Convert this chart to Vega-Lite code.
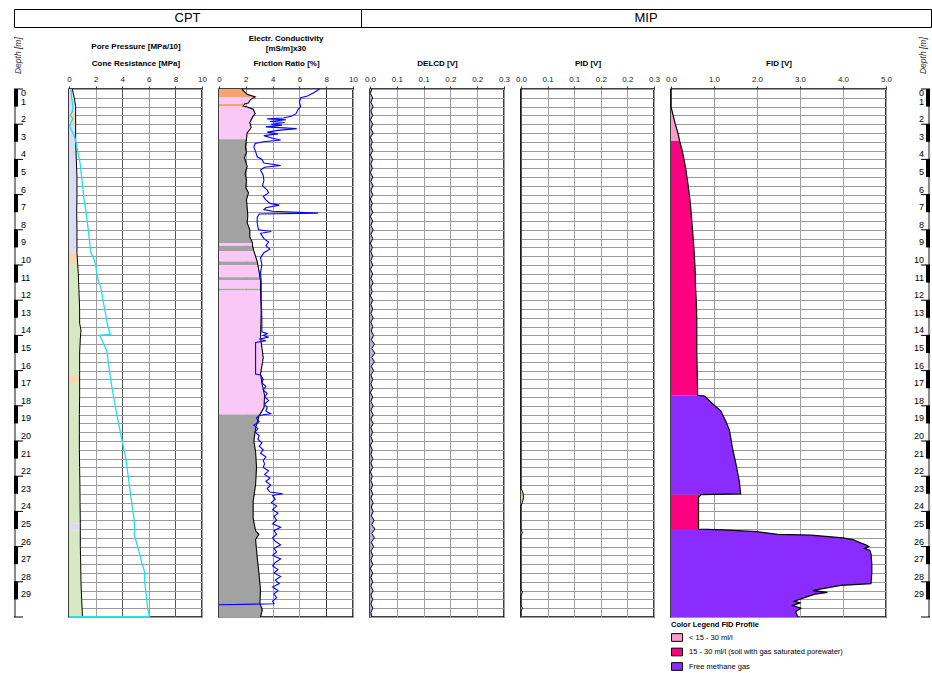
{
"$schema": "https://vega.github.io/schema/vega-lite/v6.json",
"padding": {"left": 13, "top": 8, "right": 0, "bottom": 0},
"background": "white",
"spacing": 6,
"datasets": {
"blk": [{"a":0,"b":1},{"a":2,"b":3},{"a":4,"b":5},{"a":6,"b":7},{"a":8,"b":9},{"a":10,"b":11},{"a":12,"b":13},{"a":14,"b":15},{"a":16,"b":17},{"a":18,"b":19},{"a":20,"b":21},{"a":22,"b":23},{"a":24,"b":25},{"a":26,"b":27},{"a":28,"b":29}],
"bar": [{"a":0,"b":30}],
"tk": [{"d":0},{"d":2},{"d":4},{"d":6},{"d":8},{"d":10},{"d":12},{"d":14},{"d":16},{"d":18},{"d":20},{"d":22},{"d":24},{"d":26},{"d":28},{"d":30}],
"lab": [{"d":0},{"d":1},{"d":2},{"d":3},{"d":4},{"d":5},{"d":6},{"d":7},{"d":8},{"d":9},{"d":10},{"d":11},{"d":12},{"d":13},{"d":14},{"d":15},{"d":16},{"d":17},{"d":18},{"d":19},{"d":20},{"d":21},{"d":22},{"d":23},{"d":24},{"d":25},{"d":26},{"d":27},{"d":28},{"d":29}],
"dt": [{"t":"Depth [m]","d":-0.85}],
"p1": [
{"s":1,"c":"L","d":0,"v":0.25},{"s":1,"c":"L","d":0.5,"v":0.4},{"s":1,"c":"L","d":1.0,"v":0.5},{"s":1,"c":"L","d":1.3,"v":0.5},
{"s":2,"c":"P","d":1.3,"v":0.5},{"s":2,"c":"P","d":2.0,"v":0.5},
{"s":3,"c":"L","d":2.0,"v":0.5},{"s":3,"c":"L","d":3,"v":0.5},{"s":3,"c":"L","d":4,"v":0.55},{"s":3,"c":"L","d":5,"v":0.6},{"s":3,"c":"L","d":6,"v":0.6},{"s":3,"c":"L","d":7,"v":0.58},{"s":3,"c":"L","d":8,"v":0.6},{"s":3,"c":"L","d":9,"v":0.6},{"s":3,"c":"L","d":9.3,"v":0.6},
{"s":4,"c":"P","d":9.3,"v":0.6},{"s":4,"c":"P","d":9.95,"v":0.65},
{"s":5,"c":"G","d":9.95,"v":0.65},{"s":5,"c":"G","d":10.5,"v":0.7},{"s":5,"c":"G","d":11.5,"v":0.75},{"s":5,"c":"G","d":12.5,"v":0.8},{"s":5,"c":"G","d":13.3,"v":0.8},{"s":5,"c":"G","d":13.7,"v":0.9},{"s":5,"c":"G","d":14.2,"v":0.85},{"s":5,"c":"G","d":15,"v":0.8},{"s":5,"c":"G","d":16,"v":0.8},{"s":5,"c":"G","d":16.3,"v":0.8},
{"s":6,"c":"P","d":16.3,"v":0.8},{"s":6,"c":"P","d":16.7,"v":0.8},
{"s":7,"c":"G","d":16.7,"v":0.8},{"s":7,"c":"G","d":17.5,"v":0.8},{"s":7,"c":"G","d":18.5,"v":0.78},{"s":7,"c":"G","d":19.5,"v":0.78},{"s":7,"c":"G","d":20.5,"v":0.78},{"s":7,"c":"G","d":21.5,"v":0.8},{"s":7,"c":"G","d":22.5,"v":0.82},{"s":7,"c":"G","d":23.5,"v":0.83},{"s":7,"c":"G","d":24.7,"v":0.85},
{"s":8,"c":"L","d":24.7,"v":0.85},{"s":8,"c":"L","d":25.1,"v":0.85},
{"s":9,"c":"G","d":25.1,"v":0.85},{"s":9,"c":"G","d":26,"v":0.85},{"s":9,"c":"G","d":27,"v":0.88},{"s":9,"c":"G","d":28,"v":0.9},{"s":9,"c":"G","d":29,"v":0.95},{"s":9,"c":"G","d":29.7,"v":1.0},{"s":9,"c":"G","d":30,"v":1.0}],
"qc": [{"d":0,"v":0.15},{"d":0.5,"v":0.2},{"d":1.0,"v":0.3},{"d":1.3,"v":0.25},{"d":1.5,"v":0.1},{"d":1.7,"v":0.3},{"d":1.9,"v":0.15},{"d":2.1,"v":0.05},{"d":2.3,"v":0.15},{"d":2.6,"v":0.35},{"d":2.8,"v":0.45},{"d":3.3,"v":0.6},{"d":4.2,"v":0.83},{"d":5.2,"v":0.98},{"d":6.1,"v":1.1},{"d":7.0,"v":1.28},{"d":8.0,"v":1.45},{"d":8.9,"v":1.58},{"d":9.3,"v":1.65},{"d":9.7,"v":1.9},{"d":10.0,"v":2.0},{"d":10.4,"v":2.08},{"d":10.8,"v":2.16},{"d":11.3,"v":2.4},{"d":11.9,"v":2.53},{"d":12.6,"v":2.7},{"d":13.4,"v":2.9},{"d":13.95,"v":3.1},{"d":14.0,"v":2.3},{"d":14.3,"v":2.5},{"d":14.9,"v":2.85},{"d":15.5,"v":2.95},{"d":16.6,"v":3.15},{"d":17.7,"v":3.4},{"d":18.9,"v":3.7},{"d":20.0,"v":4.0},{"d":21.1,"v":4.3},{"d":22.3,"v":4.5},{"d":23.4,"v":4.7},{"d":24.5,"v":4.9},{"d":25.1,"v":4.95},{"d":25.3,"v":4.9},{"d":26.4,"v":5.3},{"d":26.9,"v":5.47},{"d":27.4,"v":5.67},{"d":28.1,"v":5.7},{"d":28.9,"v":5.84},{"d":29.5,"v":5.9},{"d":29.95,"v":6.05},{"d":30,"v":6.05}],
"p2": [
{"s":1,"c":"O","d":0,"v":1.7},{"s":1,"c":"O","d":0.3,"v":2.1},{"s":1,"c":"O","d":0.45,"v":2.7},
{"s":2,"c":"K","d":0.45,"v":2.7},{"s":2,"c":"K","d":0.6,"v":2.35},{"s":2,"c":"K","d":0.8,"v":2.2},{"s":2,"c":"K","d":0.85,"v":1.9},
{"s":3,"c":"O","d":0.85,"v":1.9},{"s":3,"c":"O","d":0.97,"v":1.8},{"s":3,"c":"O","d":1.0,"v":2.0},
{"s":4,"c":"K","d":1.0,"v":2.0},{"s":4,"c":"K","d":1.15,"v":2.55},{"s":4,"c":"K","d":1.4,"v":2.7},{"s":4,"c":"K","d":1.6,"v":2.5},{"s":4,"c":"K","d":1.9,"v":2.3},{"s":4,"c":"K","d":2.2,"v":2.4},{"s":4,"c":"K","d":2.5,"v":2.1},{"s":4,"c":"K","d":2.85,"v":2.05},
{"s":5,"c":"S","d":2.85,"v":2.05},{"s":5,"c":"S","d":3.3,"v":1.97},{"s":5,"c":"S","d":3.6,"v":2.05},{"s":5,"c":"S","d":3.9,"v":1.9},{"s":5,"c":"S","d":4.4,"v":2.1},{"s":5,"c":"S","d":4.8,"v":1.95},{"s":5,"c":"S","d":5.2,"v":2.05},{"s":5,"c":"S","d":5.6,"v":2.0},{"s":5,"c":"S","d":5.9,"v":2.2},{"s":5,"c":"S","d":6.3,"v":2.05},{"s":5,"c":"S","d":6.7,"v":2.1},{"s":5,"c":"S","d":7.2,"v":2.15},{"s":5,"c":"S","d":7.6,"v":2.1},{"s":5,"c":"S","d":8.0,"v":2.3},{"s":5,"c":"S","d":8.4,"v":2.3},{"s":5,"c":"S","d":8.75,"v":2.5},
{"s":6,"c":"K","d":8.75,"v":2.5},{"s":6,"c":"K","d":8.9,"v":2.5},
{"s":7,"c":"S","d":8.9,"v":2.5},{"s":7,"c":"S","d":9.2,"v":2.6},
{"s":8,"c":"K","d":9.2,"v":2.6},{"s":8,"c":"K","d":9.8,"v":2.85},
{"s":9,"c":"S","d":9.8,"v":2.85},{"s":9,"c":"S","d":10.0,"v":2.9},
{"s":10,"c":"K","d":10.0,"v":2.9},{"s":10,"c":"K","d":10.4,"v":3.0},{"s":10,"c":"K","d":10.7,"v":3.05},
{"s":11,"c":"S","d":10.7,"v":3.05},{"s":11,"c":"S","d":10.85,"v":3.1},
{"s":12,"c":"K","d":10.85,"v":3.1},{"s":12,"c":"K","d":11.35,"v":3.1},
{"s":13,"c":"S","d":11.35,"v":3.1},{"s":13,"c":"S","d":11.45,"v":3.1},
{"s":14,"c":"K","d":11.45,"v":3.1},{"s":14,"c":"K","d":12.6,"v":3.15},{"s":14,"c":"K","d":14.1,"v":3.1},{"s":14,"c":"K","d":15.27,"v":3.3},{"s":14,"c":"K","d":16.2,"v":3.1},{"s":14,"c":"K","d":16.8,"v":3.23},{"s":14,"c":"K","d":17.4,"v":3.4},{"s":14,"c":"K","d":18.1,"v":3.36},{"s":14,"c":"K","d":18.5,"v":3.05},
{"s":15,"c":"S","d":18.5,"v":3.05},{"s":15,"c":"S","d":18.6,"v":2.98},{"s":15,"c":"S","d":19.3,"v":2.73},{"s":15,"c":"S","d":20.0,"v":2.6},{"s":15,"c":"S","d":20.6,"v":2.73},{"s":15,"c":"S","d":21.5,"v":2.8},{"s":15,"c":"S","d":22.5,"v":2.73},{"s":15,"c":"S","d":23.4,"v":2.55},{"s":15,"c":"S","d":24.4,"v":2.55},{"s":15,"c":"S","d":25.1,"v":2.73},{"s":15,"c":"S","d":25.3,"v":2.98},{"s":15,"c":"S","d":25.6,"v":2.73},{"s":15,"c":"S","d":26.6,"v":2.85},{"s":15,"c":"S","d":27.5,"v":2.98},{"s":15,"c":"S","d":28.5,"v":3.1},{"s":15,"c":"S","d":29.2,"v":3.05},{"s":15,"c":"S","d":29.6,"v":3.23},{"s":15,"c":"S","d":30,"v":3.1}],
"ec": [{"d":0,"v":7.5},{"d":0.2,"v":7.1},{"d":0.4,"v":6.6},{"d":0.5,"v":6.1},{"d":0.75,"v":6.0},{"d":1.0,"v":6.1},{"d":1.15,"v":5.9},{"d":1.4,"v":5.75},{"d":1.55,"v":5.4},{"d":1.65,"v":4.8},{"d":1.7,"v":3.6},{"d":1.75,"v":5.0},{"d":1.85,"v":3.8},{"d":1.9,"v":4.9},{"d":2.0,"v":3.9},{"d":2.05,"v":4.7},{"d":2.15,"v":3.5},{"d":2.25,"v":5.8},{"d":2.35,"v":4.4},{"d":2.45,"v":3.6},{"d":2.55,"v":4.4},{"d":2.65,"v":3.35},{"d":2.8,"v":4.0},{"d":2.9,"v":4.6},{"d":3.0,"v":3.3},{"d":3.1,"v":2.7},{"d":3.3,"v":2.6},{"d":3.6,"v":2.75},{"d":3.85,"v":2.85},{"d":4.0,"v":3.2},{"d":4.2,"v":3.35},{"d":4.35,"v":4.6},{"d":4.45,"v":3.4},{"d":4.6,"v":3.1},{"d":4.9,"v":3.3},{"d":5.2,"v":3.35},{"d":5.5,"v":3.25},{"d":5.75,"v":3.6},{"d":5.9,"v":3.7},{"d":6.1,"v":3.3},{"d":6.3,"v":3.5},{"d":6.5,"v":3.8},{"d":6.6,"v":4.5},{"d":6.75,"v":3.5},{"d":6.85,"v":3.35},{"d":6.95,"v":4.0},{"d":7.05,"v":7.4},{"d":7.1,"v":3.0},{"d":7.3,"v":2.85},{"d":7.6,"v":2.85},{"d":8.0,"v":2.95},{"d":8.1,"v":3.9},{"d":8.2,"v":3.1},{"d":8.5,"v":3.35},{"d":8.7,"v":3.7},{"d":8.9,"v":3.5},{"d":9.1,"v":3.8},{"d":9.3,"v":3.35},{"d":9.6,"v":3.1},{"d":10.0,"v":3.2},{"d":10.4,"v":3.1},{"d":11.0,"v":3.15},{"d":12.0,"v":3.15},{"d":13.0,"v":3.2},{"d":13.8,"v":3.2},{"d":13.9,"v":3.6},{"d":14.0,"v":3.3},{"d":14.1,"v":3.7},{"d":14.2,"v":3.0},{"d":14.3,"v":3.5},{"d":14.4,"v":2.73},{"d":16.2,"v":2.73},{"d":16.25,"v":3.1},{"d":16.5,"v":3.3},{"d":16.7,"v":3.2},{"d":16.9,"v":3.5},{"d":17.1,"v":3.3},{"d":17.3,"v":3.6},{"d":17.5,"v":3.4},{"d":17.7,"v":3.7},{"d":17.9,"v":3.4},{"d":18.1,"v":3.6},{"d":18.3,"v":3.5},{"d":18.45,"v":3.86},{"d":18.55,"v":3.0},{"d":18.7,"v":2.8},{"d":18.9,"v":3.0},{"d":19.1,"v":2.6},{"d":19.3,"v":2.9},{"d":19.5,"v":2.7},{"d":19.7,"v":3.0},{"d":19.9,"v":2.9},{"d":20.1,"v":3.2},{"d":20.3,"v":3.0},{"d":20.5,"v":3.3},{"d":20.7,"v":3.1},{"d":20.9,"v":3.5},{"d":21.1,"v":3.3},{"d":21.3,"v":3.4},{"d":21.5,"v":3.3},{"d":21.7,"v":3.7},{"d":21.9,"v":3.4},{"d":22.1,"v":3.8},{"d":22.3,"v":3.5},{"d":22.5,"v":3.86},{"d":22.7,"v":3.6},{"d":22.9,"v":3.8},{"d":23.0,"v":4.75},{"d":23.1,"v":4.0},{"d":23.3,"v":4.2},{"d":23.5,"v":3.9},{"d":23.7,"v":4.3},{"d":23.9,"v":4.0},{"d":24.1,"v":4.4},{"d":24.3,"v":4.1},{"d":24.5,"v":4.3},{"d":24.7,"v":4.0},{"d":24.9,"v":4.6},{"d":25.1,"v":4.1},{"d":25.3,"v":4.3},{"d":25.5,"v":4.0},{"d":25.7,"v":4.2},{"d":25.9,"v":4.6},{"d":26.1,"v":4.1},{"d":26.3,"v":4.3},{"d":26.5,"v":4.0},{"d":26.7,"v":4.6},{"d":26.9,"v":4.2},{"d":27.1,"v":4.0},{"d":27.3,"v":4.4},{"d":27.5,"v":4.1},{"d":27.7,"v":4.6},{"d":27.9,"v":4.2},{"d":28.1,"v":4.5},{"d":28.3,"v":4.0},{"d":28.5,"v":4.4},{"d":28.7,"v":4.1},{"d":28.9,"v":4.3},{"d":29.1,"v":4.0},{"d":29.25,"v":4.1},{"d":29.3,"v":0}],
"dl": [{"d":0,"v":0.004},{"d":0.25,"v":0.001},{"d":0.5,"v":0.006},{"d":0.75,"v":0.002},{"d":1,"v":0.007},{"d":1.25,"v":0.002},{"d":1.5,"v":0.006},{"d":1.75,"v":0.001},{"d":2,"v":0.006},{"d":2.25,"v":0.002},{"d":2.5,"v":0.007},{"d":2.75,"v":0.001},{"d":3,"v":0.005},{"d":3.25,"v":0.002},{"d":3.5,"v":0.006},{"d":3.75,"v":0.001},{"d":4,"v":0.006},{"d":4.25,"v":0.002},{"d":4.5,"v":0.005},{"d":4.75,"v":0.001},{"d":5,"v":0.006},{"d":5.25,"v":0.002},{"d":5.5,"v":0.007},{"d":5.75,"v":0.002},{"d":6,"v":0.006},{"d":6.25,"v":0.001},{"d":6.5,"v":0.005},{"d":6.75,"v":0.002},{"d":7,"v":0.006},{"d":7.25,"v":0.001},{"d":7.5,"v":0.006},{"d":7.75,"v":0.002},{"d":8,"v":0.007},{"d":8.25,"v":0.002},{"d":8.5,"v":0.006},{"d":8.75,"v":0.001},{"d":9,"v":0.005},{"d":9.25,"v":0.002},{"d":9.5,"v":0.006},{"d":9.75,"v":0.002},{"d":10,"v":0.006},{"d":10.25,"v":0.001},{"d":10.5,"v":0.006},{"d":10.75,"v":0.002},{"d":11,"v":0.007},{"d":11.25,"v":0.002},{"d":11.5,"v":0.005},{"d":11.75,"v":0.001},{"d":12,"v":0.006},{"d":12.25,"v":0.002},{"d":12.5,"v":0.006},{"d":12.75,"v":0.002},{"d":13,"v":0.007},{"d":13.25,"v":0.002},{"d":13.5,"v":0.006},{"d":13.75,"v":0.003},{"d":14,"v":0.008},{"d":14.25,"v":0.003},{"d":14.5,"v":0.01},{"d":14.75,"v":0.004},{"d":15,"v":0.011},{"d":15.25,"v":0.004},{"d":15.5,"v":0.01},{"d":15.75,"v":0.003},{"d":16,"v":0.008},{"d":16.25,"v":0.002},{"d":16.5,"v":0.006},{"d":16.75,"v":0.002},{"d":17,"v":0.006},{"d":17.25,"v":0.001},{"d":17.5,"v":0.006},{"d":17.75,"v":0.002},{"d":18,"v":0.007},{"d":18.25,"v":0.002},{"d":18.5,"v":0.007},{"d":18.75,"v":0.002},{"d":19,"v":0.007},{"d":19.25,"v":0.002},{"d":19.5,"v":0.006},{"d":19.75,"v":0.002},{"d":20,"v":0.006},{"d":20.25,"v":0.001},{"d":20.5,"v":0.005},{"d":20.75,"v":0.002},{"d":21,"v":0.006},{"d":21.25,"v":0.002},{"d":21.5,"v":0.006},{"d":21.75,"v":0.001},{"d":22,"v":0.005},{"d":22.25,"v":0.002},{"d":22.5,"v":0.006},{"d":22.75,"v":0.002},{"d":23,"v":0.006},{"d":23.25,"v":0.002},{"d":23.5,"v":0.007},{"d":23.75,"v":0.003},{"d":24,"v":0.007},{"d":24.25,"v":0.003},{"d":24.5,"v":0.009},{"d":24.75,"v":0.004},{"d":25,"v":0.011},{"d":25.25,"v":0.004},{"d":25.5,"v":0.01},{"d":25.75,"v":0.003},{"d":26,"v":0.008},{"d":26.25,"v":0.002},{"d":26.5,"v":0.006},{"d":26.75,"v":0.002},{"d":27,"v":0.006},{"d":27.25,"v":0.001},{"d":27.5,"v":0.006},{"d":27.75,"v":0.002},{"d":28,"v":0.006},{"d":28.25,"v":0.002},{"d":28.5,"v":0.007},{"d":28.75,"v":0.002},{"d":29,"v":0.006},{"d":29.25,"v":0.002},{"d":29.5,"v":0.006},{"d":29.75,"v":0.002},{"d":30,"v":0.004}],
"pid": [{"d":0,"v":0},{"d":22.7,"v":0},{"d":22.9,"v":0.004},{"d":23.2,"v":0.006},{"d":23.5,"v":0.003},{"d":23.7,"v":0},{"d":25.0,"v":0},{"d":25.2,"v":0.003},{"d":25.4,"v":0},{"d":28.4,"v":0},{"d":28.6,"v":0.003},{"d":28.8,"v":0},{"d":29.3,"v":0},{"d":29.5,"v":0.003},{"d":29.7,"v":0},{"d":30,"v":0}],
"fid": [
{"s":1,"c":"A","d":0,"v":0},{"s":1,"c":"A","d":1.0,"v":0},{"s":1,"c":"A","d":1.5,"v":0.05},{"s":1,"c":"A","d":2.0,"v":0.1},{"s":1,"c":"A","d":2.5,"v":0.16},{"s":1,"c":"A","d":2.95,"v":0.2},
{"s":2,"c":"B","d":2.95,"v":0.2},{"s":2,"c":"B","d":3.6,"v":0.27},{"s":2,"c":"B","d":4.5,"v":0.34},{"s":2,"c":"B","d":5.5,"v":0.4},{"s":2,"c":"B","d":6.5,"v":0.45},{"s":2,"c":"B","d":7.4,"v":0.48},{"s":2,"c":"B","d":8.3,"v":0.51},{"s":2,"c":"B","d":9.3,"v":0.54},{"s":2,"c":"B","d":10.2,"v":0.56},{"s":2,"c":"B","d":11.2,"v":0.57},{"s":2,"c":"B","d":12.2,"v":0.59},{"s":2,"c":"B","d":13.1,"v":0.6},{"s":2,"c":"B","d":15.0,"v":0.6},{"s":2,"c":"B","d":16.2,"v":0.61},{"s":2,"c":"B","d":17.4,"v":0.62},
{"s":3,"c":"C","d":17.4,"v":0.62},{"s":3,"c":"C","d":17.45,"v":0.78},{"s":3,"c":"C","d":17.8,"v":0.93},{"s":3,"c":"C","d":18.3,"v":1.16},{"s":3,"c":"C","d":18.9,"v":1.28},{"s":3,"c":"C","d":19.4,"v":1.36},{"s":3,"c":"C","d":20.4,"v":1.43},{"s":3,"c":"C","d":21.3,"v":1.51},{"s":3,"c":"C","d":22.3,"v":1.59},{"s":3,"c":"C","d":22.8,"v":1.61},{"s":3,"c":"C","d":23.0,"v":1.62},{"s":3,"c":"C","d":23.05,"v":0.7},
{"s":4,"c":"B","d":23.05,"v":0.7},{"s":4,"c":"B","d":23.2,"v":0.64},{"s":4,"c":"B","d":24.9,"v":0.64},{"s":4,"c":"B","d":25.0,"v":0.64},
{"s":5,"c":"C","d":25.0,"v":0.64},{"s":5,"c":"C","d":25.05,"v":1.2},{"s":5,"c":"C","d":25.15,"v":2.0},{"s":5,"c":"C","d":25.3,"v":2.48},{"s":5,"c":"C","d":25.35,"v":3.26},{"s":5,"c":"C","d":25.5,"v":3.99},{"s":5,"c":"C","d":25.6,"v":4.23},{"s":5,"c":"C","d":25.8,"v":4.42},{"s":5,"c":"C","d":25.9,"v":4.53},{"s":5,"c":"C","d":26.0,"v":4.6},{"s":5,"c":"C","d":26.1,"v":4.5},{"s":5,"c":"C","d":26.2,"v":4.62},{"s":5,"c":"C","d":26.4,"v":4.65},{"s":5,"c":"C","d":27.0,"v":4.67},{"s":5,"c":"C","d":27.5,"v":4.67},{"s":5,"c":"C","d":28.1,"v":4.65},{"s":5,"c":"C","d":28.2,"v":3.95},{"s":5,"c":"C","d":28.4,"v":3.5},{"s":5,"c":"C","d":28.5,"v":3.3},{"s":5,"c":"C","d":28.6,"v":3.64},{"s":5,"c":"C","d":28.7,"v":3.35},{"s":5,"c":"C","d":28.9,"v":3.1},{"s":5,"c":"C","d":29.1,"v":2.87},{"s":5,"c":"C","d":29.2,"v":3.0},{"s":5,"c":"C","d":29.35,"v":2.83},{"s":5,"c":"C","d":29.5,"v":3.02},{"s":5,"c":"C","d":29.7,"v":2.9},{"s":5,"c":"C","d":30,"v":2.95}]
},
"vconcat": [
{"hconcat": [
 {"width": 347, "height": 18, "view": {"stroke": "black", "strokeWidth": 1}, "data": {"values": [{"t": "CPT"}]}, "mark": {"type": "text", "fontSize": 13, "font": "Liberation Sans", "color": "black"}, "encoding": {"text": {"field": "t", "type": "nominal"}}},
 {"width": 570, "height": 18, "view": {"stroke": "black", "strokeWidth": 1}, "data": {"values": [{"t": "MIP"}]}, "mark": {"type": "text", "fontSize": 13, "font": "Liberation Sans", "color": "black"}, "encoding": {"text": {"field": "t", "type": "nominal"}}}
], "spacing": 0, "bounds": "flush"},
{"hconcat": [
 {"width": 38, "height": 528, "view": {"stroke": null},
  "layer": [
   {"data": {"name": "bar"}, "mark": {"type": "rule", "color": "#8a8a8a", "strokeWidth": 2}, "encoding": {"x": {"datum": 1, "type": "quantitative", "scale": {"domain": [0, 38], "nice": false}, "axis": null}, "y": {"field": "a", "type": "quantitative", "scale": {"domain": [0, 30], "reverse": true, "nice": false, "zero": false}, "axis": null}, "y2": {"field": "b"}}},
   {"data": {"name": "blk"}, "mark": {"type": "rule", "color": "black", "strokeWidth": 4}, "encoding": {"x": {"datum": 2, "type": "quantitative"}, "y": {"field": "a", "type": "quantitative"}, "y2": {"field": "b"}}},
   {"data": {"name": "tk"}, "mark": {"type": "rule", "color": "black", "strokeWidth": 1}, "encoding": {"x": {"datum": 0, "type": "quantitative"}, "x2": {"datum": 9}, "y": {"field": "d", "type": "quantitative"}}},
   {"data": {"name": "lab"}, "transform": [{"filter": "datum.d > 0"}], "mark": {"type": "text", "align": "left", "baseline": "bottom", "fontSize": 9, "font": "Liberation Sans", "color": "black"}, "encoding": {"x": {"datum": 7, "type": "quantitative"}, "y": {"field": "d", "type": "quantitative"}, "text": {"field": "d", "type": "quantitative", "format": "d"}}},
   {"data": {"name": "lab"}, "transform": [{"filter": "datum.d == 0"}], "mark": {"type": "text", "align": "left", "baseline": "top", "fontSize": 9, "font": "Liberation Sans", "color": "black"}, "encoding": {"x": {"datum": 7, "type": "quantitative"}, "y": {"field": "d", "type": "quantitative"}, "text": {"field": "d", "type": "quantitative", "format": "d"}}},
   {"data": {"name": "dt"}, "mark": {"type": "text", "angle": 270, "align": "left", "baseline": "top", "fontSize": 8.5, "fontStyle": "italic", "font": "Liberation Sans", "color": "#333"}, "encoding": {"x": {"datum": 0, "type": "quantitative"}, "y": {"field": "d", "type": "quantitative"}, "text": {"field": "t", "type": "nominal"}}}
  ]},
 {"width": 133, "height": 528,
  "layer": [
   {"data": {"name": "p1"}, "mark": {"type": "area", "orient": "horizontal"}, "encoding": {
     "x": {"field": "v", "type": "quantitative", "stack": null, "scale": {"domain": [0, 10], "nice": false}, "axis": {"orient": "top", "values": [0, 2, 4, 6, 8, 10], "tickCount": 10, "labelOverlap": false, "grid": true, "gridColor": {"condition": {"test": "datum.value === 8 || datum.value === 4", "value": "#555"}, "value": "#a0a0a0"}, "title": ["Pore Pressure [MPa/10]", "Cone Resistance [MPa]"], "titleLineHeight": 17}},
     "y": {"field": "d", "type": "quantitative", "scale": {"domain": [0, 30], "reverse": true, "nice": false, "zero": false}, "axis": {"tickCount": 60, "grid": true, "labels": false, "ticks": false, "domain": false, "title": null}},
     "detail": {"field": "s", "type": "nominal"},
     "color": {"field": "c", "type": "nominal", "scale": {"domain": ["L", "P", "G"], "range": ["#dcdcf5", "#fad6b4", "#d5e9c2"]}, "legend": null}}},
   {"data": {"name": "p1"}, "mark": {"type": "line", "color": "black", "strokeWidth": 1}, "encoding": {"x": {"field": "v", "type": "quantitative"}, "y": {"field": "d", "type": "quantitative"}, "order": {"field": "d", "type": "quantitative"}}},
   {"data": {"name": "qc"}, "mark": {"type": "line", "color": "#1fe0ee", "strokeWidth": 1.3}, "encoding": {"x": {"field": "v", "type": "quantitative"}, "y": {"field": "d", "type": "quantitative"}, "order": {"field": "d", "type": "quantitative"}}},
   {"data": {"name": "qc"}, "transform": [{"filter": "datum.d == 30"}], "mark": {"type": "rule", "color": "#1fe0ee", "strokeWidth": 2}, "encoding": {"x": {"field": "v", "type": "quantitative"}, "x2": {"datum": 0}, "y": {"field": "d", "type": "quantitative"}}}
  ]},
 {"width": 134, "height": 528,
  "title": {"text": ["Electr. Conductivity", "[mS/m]x30"], "lineHeight": 10, "fontSize": 8, "fontWeight": "bold", "font": "Liberation Sans", "color": "black", "offset": 6, "anchor": "middle", "frame": "group"},
  "layer": [
   {"data": {"name": "p2"}, "mark": {"type": "area", "orient": "horizontal"}, "encoding": {
     "x": {"field": "v", "type": "quantitative", "stack": null, "scale": {"domain": [0, 10], "nice": false}, "axis": {"orient": "top", "values": [0, 2, 4, 6, 8, 10], "tickCount": 10, "labelOverlap": false, "grid": true, "gridColor": {"condition": {"test": "datum.value === 8", "value": "#333"}, "value": "#a0a0a0"}, "title": "Friction Ratio [%]"}},
     "y": {"field": "d", "type": "quantitative", "scale": {"domain": [0, 30], "reverse": true, "nice": false, "zero": false}, "axis": {"tickCount": 60, "grid": true, "labels": false, "ticks": false, "domain": false, "title": null}},
     "detail": {"field": "s", "type": "nominal"},
     "color": {"field": "c", "type": "nominal", "scale": {"domain": ["O", "K", "S"], "range": ["#f6a273", "#fac8f6", "#a2a2a2"]}, "legend": null}}},
   {"data": {"name": "p2"}, "mark": {"type": "line", "color": "black", "strokeWidth": 1.1}, "encoding": {"x": {"field": "v", "type": "quantitative"}, "y": {"field": "d", "type": "quantitative"}, "order": {"field": "d", "type": "quantitative"}}},
   {"data": {"name": "ec"}, "mark": {"type": "line", "color": "#0000ff", "strokeWidth": 1.1}, "encoding": {"x": {"field": "v", "type": "quantitative"}, "y": {"field": "d", "type": "quantitative"}, "order": {"field": "d", "type": "quantitative"}}}
  ]},
 {"width": 134, "height": 528,
  "layer": [
   {"data": {"name": "dl"}, "mark": {"type": "area", "orient": "horizontal", "color": "#b4b4dc"}, "encoding": {
     "x": {"field": "v", "type": "quantitative", "stack": null, "scale": {"domain": [0, 0.3], "nice": false}, "axis": {"orient": "top", "values": [0, 0.06, 0.12, 0.18, 0.24, 0.3], "tickCount": 10, "labelOverlap": false, "format": ".1f", "grid": true, "gridColor": "#a0a0a0", "title": "DELCD [V]"}},
     "y": {"field": "d", "type": "quantitative", "scale": {"domain": [0, 30], "reverse": true, "nice": false, "zero": false}, "axis": {"tickCount": 60, "grid": true, "labels": false, "ticks": false, "domain": false, "title": null}}}},
   {"data": {"name": "dl"}, "mark": {"type": "line", "color": "black", "strokeWidth": 1}, "encoding": {"x": {"field": "v", "type": "quantitative"}, "y": {"field": "d", "type": "quantitative"}, "order": {"field": "d", "type": "quantitative"}}}
  ]},
 {"width": 133, "height": 528,
  "layer": [
   {"data": {"name": "pid"}, "mark": {"type": "area", "orient": "horizontal", "color": "#c9d49a"}, "encoding": {
     "x": {"field": "v", "type": "quantitative", "stack": null, "scale": {"domain": [0, 0.3], "nice": false}, "axis": {"orient": "top", "values": [0, 0.06, 0.12, 0.18, 0.24, 0.3], "tickCount": 10, "labelOverlap": false, "format": ".1f", "grid": true, "gridColor": "#a0a0a0", "title": "PID [V]"}},
     "y": {"field": "d", "type": "quantitative", "scale": {"domain": [0, 30], "reverse": true, "nice": false, "zero": false}, "axis": {"tickCount": 60, "grid": true, "labels": false, "ticks": false, "domain": false, "title": null}}}},
   {"data": {"name": "pid"}, "mark": {"type": "line", "color": "black", "strokeWidth": 1}, "encoding": {"x": {"field": "v", "type": "quantitative"}, "y": {"field": "d", "type": "quantitative"}, "order": {"field": "d", "type": "quantitative"}}}
  ]},
 {"width": 215, "height": 528,
  "layer": [
   {"data": {"name": "fid"}, "mark": {"type": "area", "orient": "horizontal"}, "encoding": {
     "x": {"field": "v", "type": "quantitative", "stack": null, "scale": {"domain": [0, 5], "nice": false}, "axis": {"orient": "top", "values": [0, 1, 2, 3, 4, 5], "tickCount": 10, "labelOverlap": false, "format": ".1f", "grid": true, "gridColor": "#a0a0a0", "title": "FID [V]"}},
     "y": {"field": "d", "type": "quantitative", "scale": {"domain": [0, 30], "reverse": true, "nice": false, "zero": false}, "axis": {"tickCount": 60, "grid": true, "labels": false, "ticks": false, "domain": false, "title": null}},
     "detail": {"field": "s", "type": "nominal"},
     "color": {"field": "c", "type": "nominal", "scale": {"domain": ["A", "B", "C"], "range": ["#ff99cc", "#ff0080", "#8a2cff"]},
       "legend": {"orient": "bottom", "direction": "vertical", "title": "Color Legend FID Profile", "titleFontSize": 7.5, "titleFontWeight": "bold", "titleFont": "Liberation Sans", "titleColor": "black", "titlePadding": 3, "labelFontSize": 7.5, "labelFont": "Liberation Sans", "labelColor": "black", "labelLimit": 300, "symbolType": "M-1,-0.7H1V0.7H-1Z", "symbolSize": 121, "rowPadding": 2.5, "offset": 4, "labelOffset": 6, "padding": 0,
         "labelExpr": "datum.label == 'A' ? '< 15 - 30 ml/l' : datum.label == 'B' ? '15 - 30 ml/l (soil with gas saturated porewater)' : 'Free methane gas'",
         "encode": {"symbols": {"update": {"stroke": {"value": "black"}, "strokeWidth": {"value": 1}, "opacity": {"value": 1}}}}}}}},
   {"data": {"name": "fid"}, "mark": {"type": "line", "color": "black", "strokeWidth": 1.2}, "encoding": {"x": {"field": "v", "type": "quantitative"}, "y": {"field": "d", "type": "quantitative"}, "order": {"field": "d", "type": "quantitative"}}}
  ]},
 {"width": 30, "height": 528, "view": {"stroke": null},
  "layer": [
   {"data": {"name": "bar"}, "mark": {"type": "rule", "color": "#8a8a8a", "strokeWidth": 2}, "encoding": {"x": {"datum": 26, "type": "quantitative", "scale": {"domain": [0, 30], "nice": false}, "axis": null}, "y": {"field": "a", "type": "quantitative", "scale": {"domain": [0, 30], "reverse": true, "nice": false, "zero": false}, "axis": null}, "y2": {"field": "b"}}},
   {"data": {"name": "blk"}, "mark": {"type": "rule", "color": "black", "strokeWidth": 4}, "encoding": {"x": {"datum": 25, "type": "quantitative"}, "y": {"field": "a", "type": "quantitative"}, "y2": {"field": "b"}}},
   {"data": {"name": "tk"}, "mark": {"type": "rule", "color": "black", "strokeWidth": 1}, "encoding": {"x": {"datum": 18, "type": "quantitative"}, "x2": {"datum": 27}, "y": {"field": "d", "type": "quantitative"}}},
   {"data": {"name": "lab"}, "transform": [{"filter": "datum.d > 0"}], "mark": {"type": "text", "align": "right", "baseline": "bottom", "fontSize": 9, "font": "Liberation Sans", "color": "black"}, "encoding": {"x": {"datum": 21, "type": "quantitative"}, "y": {"field": "d", "type": "quantitative"}, "text": {"field": "d", "type": "quantitative", "format": "d"}}},
   {"data": {"name": "lab"}, "transform": [{"filter": "datum.d == 0"}], "mark": {"type": "text", "align": "right", "baseline": "top", "fontSize": 9, "font": "Liberation Sans", "color": "black"}, "encoding": {"x": {"datum": 21, "type": "quantitative"}, "y": {"field": "d", "type": "quantitative"}, "text": {"field": "d", "type": "quantitative", "format": "d"}}},
   {"data": {"name": "dt"}, "mark": {"type": "text", "angle": 270, "align": "left", "baseline": "bottom", "fontSize": 8.5, "fontStyle": "italic", "font": "Liberation Sans", "color": "#333"}, "encoding": {"x": {"datum": 25, "type": "quantitative"}, "y": {"field": "d", "type": "quantitative"}, "text": {"field": "t", "type": "nominal"}}}
  ]}
], "spacing": 17, "bounds": "flush",
 "resolve": {"scale": {"x": "independent", "y": "independent", "color": "independent"}, "legend": {"color": "independent"}}}
],
"config": {
 "font": "Liberation Sans",
 "view": {"stroke": "black", "strokeWidth": 1.5},
 "axis": {"labelFont": "Liberation Sans", "labelFontSize": 8, "labelColor": "#222", "titleFont": "Liberation Sans", "titleFontSize": 8, "titleFontWeight": "bold", "titleColor": "black", "tickColor": "#333", "tickSize": 3, "labelPadding": 3, "titlePadding": 8, "domain": false, "gridColor": "#9a9a9a", "gridWidth": 1, "labelFlush": false, "labelOverlap": false}
}
}
